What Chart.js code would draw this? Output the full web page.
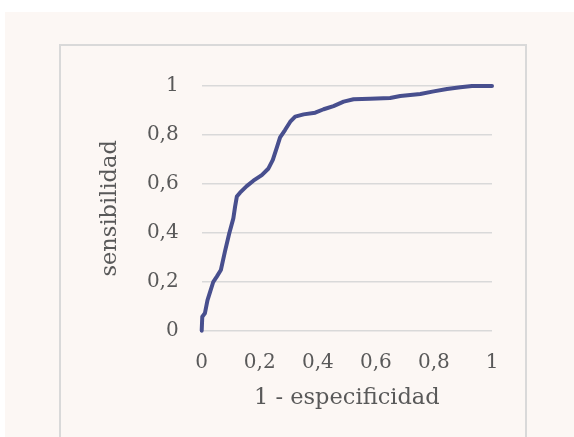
<!DOCTYPE html>
<html>
<head>
<meta charset="utf-8">
<script src="https://cdn.jsdelivr.net/npm/chart.js@4"></script>
<style>
  html, body { margin: 0; padding: 0; background: #ffffff; }
  .panel { position: absolute; left: 5px; top: 12px; width: 569px; height: 425px; background: #fcf7f4; }
  .frame { position: absolute; left: 59px; top: 44px; width: 464px; height: 400px; border: 2px solid #d9d9d9; }
  #wrap { position: absolute; left: 0; top: 0; width: 574px; height: 437px; }
</style>
</head>
<body>
<div class="panel"></div>
<div class="frame"></div>
<div id="wrap"><canvas id="myChart" width="574" height="437"></canvas></div>
<script>
// ROC curve
const fpr = [0, 0.002, 0.011, 0.020, 0.029, 0.040, 0.052, 0.066, 0.080, 0.095, 0.109, 0.115, 0.121, 0.132,
  0.155, 0.178, 0.207, 0.230, 0.245, 0.259, 0.270, 0.287, 0.305, 0.322, 0.351, 0.391, 0.420, 0.454,
  0.489, 0.523, 0.580, 0.649, 0.684, 0.753, 0.799, 0.845, 0.891, 0.931, 1.0]
const tpr = [0, 0.057, 0.071, 0.125, 0.159, 0.200, 0.221, 0.248, 0.323, 0.398, 0.459, 0.507, 0.548, 0.564,
  0.591, 0.613, 0.636, 0.663, 0.698, 0.749, 0.790, 0.820, 0.854, 0.875, 0.884, 0.891, 0.905, 0.918,
  0.936, 0.946, 0.948, 0.951, 0.959, 0.967, 0.978, 0.988, 0.995, 1.0, 1.0]
const xTitle = '1 - especificidad'
const yTitle = 'sensibilidad'

const textColor = '#595959'
const fontFamily = '"DejaVu Serif", "Liberation Serif", serif'

function commaTick(v) {
  return (Math.round(v * 10) / 10).toString().replace('.', ',')
}

let points = fpr.map((x, i) => ({ x: x, y: tpr[i] }))

const config = {
  type: 'scatter',
  data: {
    datasets: [{
      data: points,
      showLine: true,
      clip: 6,
      borderColor: '#484f8e',
      borderWidth: 4,
      borderCapStyle: 'round',
      borderJoinStyle: 'round',
      pointRadius: 0,
      tension: 0
    }]
  },
  options: {
    responsive: false,
    animation: false,
    layout: { padding: { left: 0, right: 82, top: 86, bottom: 0 } },
    plugins: { legend: { display: false }, tooltip: { enabled: false } },
    scales: {
      x: {
        type: 'linear',
        min: 0, max: 1,
        grid: { display: false },
        border: { display: false },
        ticks: { stepSize: 0.2, padding: 12, color: textColor, font: { family: fontFamily, size: 20 }, callback: commaTick },
        title: { display: true, text: xTitle, color: textColor, font: { family: fontFamily, size: 22.5 }, padding: { top: 0, bottom: 25 } },
        afterFit: s => { s.height = 106.3 }
      },
      y: {
        min: 0, max: 1,
        grid: { color: '#d9d9d9', lineWidth: 1.5, drawTicks: false },
        border: { display: false },
        ticks: { stepSize: 0.2, padding: 23, color: textColor, font: { family: fontFamily, size: 20 }, callback: commaTick },
        title: { display: true, text: yTitle, color: textColor, font: { family: fontFamily, size: 22.5 }, padding: { top: 97, bottom: 0 } },
        afterFit: s => { s.width = 201.7 }
      }
    }
  }
}

window.myChart = new Chart(document.getElementById('myChart'), config)
</script>
</body>
</html>
